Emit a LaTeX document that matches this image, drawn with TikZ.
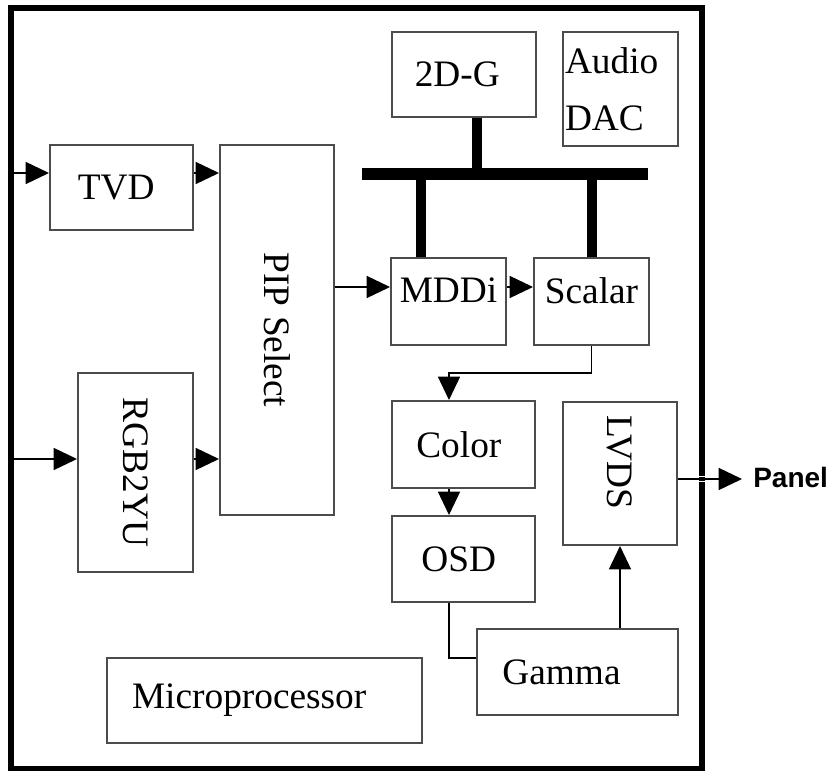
\documentclass[tikz,border=0pt]{standalone}
\usepackage{fontspec}
\setmainfont{Liberation Serif}
\newfontfamily\panelfont{Liberation Sans}
\usetikzlibrary{arrows.meta, positioning}

\begin{document}
\begin{tikzpicture}[
    x=0.75pt, y=-0.75pt,
    unit/.style 2 args={draw=black!70, line width=1.5pt, minimum width=#1*0.75pt, minimum height=#2*0.75pt, inner sep=0pt, font=\fontsize{28}{34}\selectfont},
    link/.style={line width=1.2pt},
    flow/.style={-{Triangle[length=17.5pt, width=16.5pt]}, line width=1.2pt},
    bus/.style={line width=9pt},
    tap/.style={line width=7.5pt},
]
  \useasboundingbox (0,0) rectangle (832,771);
  \draw[line width=4.5pt] (10.5,7.5) rectangle (701.5,768.5);

  % blocks
  \node[unit={144}{85}]  (gfx)    at (464,74.5)    {2D-G\hspace*{10pt}};
  \node[unit={115}{114}, text width=83.25pt, inner xsep=1.5pt, align=left,
        font=\fontsize{28}{42.75}\selectfont] (dac) at (620.5,89) {Audio\\DAC};
  \node[unit={143}{85}]  (tvd)    at (121.5,187.5) {TVD\hspace*{8pt}};
  \node[unit={114}{370}] (pip)    at (277,330)     {\rotatebox{-90}{PIP Select}};
  \node[unit={115}{199}] (rgb)    at (135.5,472.5) {\rotatebox{-90}{RGB2YU}};
  \node[unit={115}{87}, text depth=16.5pt] (mddi)   at (448.5,301.5) {MDDi};
  \node[unit={115}{87}, text depth=16.5pt] (scalar) at (591.5,301.5) {Scalar};
  \node[unit={143}{87}]  (color)  at (463.5,444.5) {Color\hspace*{7pt}};
  \node[unit={143}{86}]  (osd)    at (463.5,559)   {OSD\hspace*{7pt}};
  \node[unit={114}{143}] (lvds)   at (620,473.5)   {\rotatebox{-90}{LVDS\hspace*{17pt}}};
  \node[unit={201}{86}]  (gamma)  at (577.5,672)   {Gamma\hspace*{24pt}};
  \node[unit={315}{85}]  (micro)  at (264.5,700.5) {Microprocessor\hspace*{23pt}};
  \node[font=\panelfont\bfseries\fontsize{21}{25}\selectfont, anchor=west, inner sep=0pt]
        (panel) at (753,477) {Panel};

  \coordinate (in1)  at (10.5,173);
  \coordinate (in2)  at (10.5,459);
  \coordinate (row)  at (0,287);
  \coordinate (bend) at (449,373);
  \coordinate (drop) at (449,658);
  \coordinate (pout) at (742,479);

  % data path
  \draw[flow] (in1) -- (in1 -| tvd.west);
  \draw[flow] (in1 -| tvd.east) -- (in1 -| pip.west);
  \draw[flow] (in2) -- (in2 -| rgb.west);
  \draw[flow] (in2 -| rgb.east) -- (in2 -| pip.west);
  \draw[flow] (row -| pip.east) -- (row -| mddi.west);
  \draw[flow] (row -| mddi.east) -- (row -| scalar.west);
  \draw[flow] (scalar.south) |- (bend) -- (bend |- color.north);
  \draw[flow] (bend |- color.south) -- (bend |- osd.north);
  \draw[link] (bend |- osd.south) -- (drop) -- (drop -| gamma.west);
  \draw[flow] (lvds.south |- gamma.north) -- (lvds.south);
  \draw[flow] (lvds.east |- pout) -- (pout);
  \draw[white, line width=0.6pt] (698,476.5) -- (705,476.5) (698,481.5) -- (705,481.5);

  % bus
  \coordinate (busL) at (362,174);
  \coordinate (busR) at (648,174);
  \coordinate (t1) at (477,0);
  \coordinate (t2) at (421,0);
  \coordinate (t3) at (592,0);
  \draw[bus] (busL) -- (busR);
  \draw[tap] (gfx.south -| t1) -- (busL -| t1);
  \draw[tap] (busL -| t2) -- (mddi.north -| t2);
  \draw[tap] (busL -| t3) -- (scalar.north -| t3);
\end{tikzpicture}
\end{document}
